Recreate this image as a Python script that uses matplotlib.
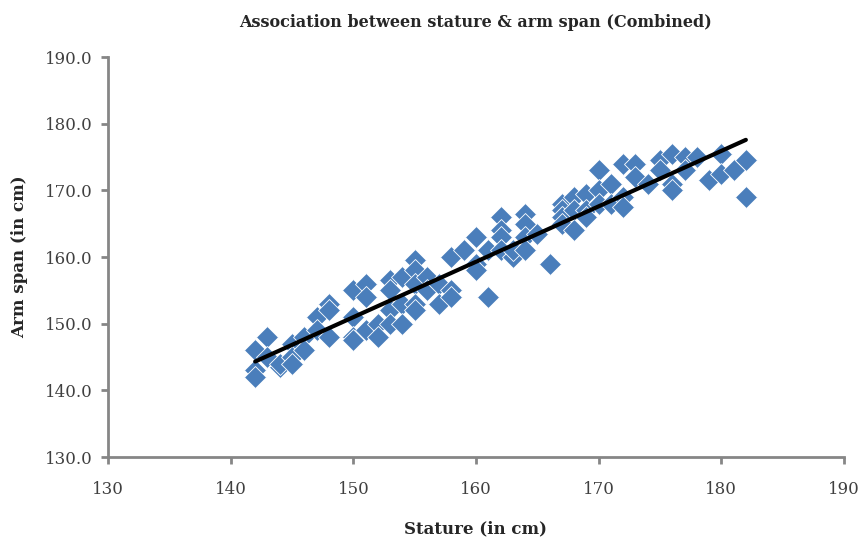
import matplotlib.pyplot as plt
import numpy as np

# stature (cm) and arm span (cm)
stature = [142, 142, 142, 143, 143, 144, 144, 145, 145, 145, 146, 146,
           147, 147, 148, 148, 148, 150, 150, 150, 150, 151, 151, 151,
           152, 152, 153, 153, 153, 153, 154, 154, 154, 155, 155, 155,
           155, 155, 156, 156, 157, 157, 158, 158, 158, 159, 160, 160,
           160, 161, 161, 162, 162, 162, 162, 163, 163, 164, 164, 164,
           164, 165, 166, 167, 167, 167, 167, 168, 168, 168, 169, 169,
           169, 170, 170, 170, 171, 171, 172, 172, 172, 173, 173, 174,
           175, 175, 176, 176, 176, 177, 177, 178, 179, 180, 180, 181,
           182, 182]
arm_span = [146, 143, 142, 148, 145, 143.5, 144, 147, 145, 144, 148, 146,
            151, 149, 153, 152, 148, 155, 151, 148, 147.5, 156, 154, 149,
            150, 148, 156.5, 155, 152, 150, 157, 153, 150, 159.5, 158, 156,
            153, 152, 157, 155, 156, 153, 160, 155, 154, 161, 163, 159,
            158, 161, 154, 166, 164, 163, 161, 160, 161, 166.5, 165, 163,
            161, 163.5, 159, 168, 167, 166, 165, 169, 167, 164, 169.5, 167,
            166, 173, 170, 168, 171, 168, 174, 169, 167.5, 174, 172, 171,
            174.5, 173, 175.5, 171, 170, 175, 173, 175, 171.5, 175.5, 172.5, 173,
            174.5, 169]

x_ticks = [130, 140, 150, 160, 170, 180, 190]
y_ticks = [130, 140, 150, 160, 170, 180, 190]

plt.rcParams['font.family'] = ['DejaVu Serif']

fig = plt.figure(figsize=(8.62, 5.39), dpi=100)
ax = fig.add_axes([0.1253, 0.152, 0.8538, 0.742])

ax.plot(stature, arm_span, linestyle='none', marker='D', markersize=11,
        markerfacecolor='#4A7EBB', markeredgecolor='white', markeredgewidth=0.6)

# linear trend line
slope, intercept = np.polyfit(stature, arm_span, 1)
xs = np.array([min(stature), max(stature)])
ax.plot(xs, slope * xs + intercept, color='black', linewidth=3, solid_capstyle='round')

ax.set_xlim(130, 190)
ax.set_ylim(130, 190)
ax.set_xticks(x_ticks)
ax.set_yticks(y_ticks)
ax.set_yticklabels([f'{v:.1f}' for v in y_ticks])

for side in ['top', 'right']:
    ax.spines[side].set_visible(False)
for side in ['left', 'bottom']:
    ax.spines[side].set_color('#868686')
    ax.spines[side].set_linewidth(2)
ax.tick_params(colors='#868686', width=2, length=5, labelsize=12, labelcolor='#404040', pad=6)
ax.tick_params(axis='x', pad=12)

ax.set_title('Association between stature & arm span (Combined)', fontsize=11.5,
             fontweight='bold', color='#262626', pad=22)
ax.set_xlabel('Stature (in cm)', fontsize=12, fontweight='bold', color='#262626', labelpad=16)
ax.set_ylabel('Arm span (in cm)', fontsize=12, fontweight='bold', color='#262626', labelpad=12)

plt.savefig('out.png')
